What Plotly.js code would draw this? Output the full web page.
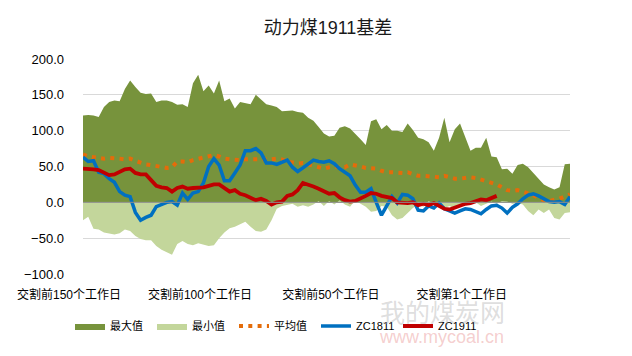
<!DOCTYPE html>
<html><head><meta charset="utf-8">
<script src="https://cdn.plot.ly/plotly-3.0.1.min.js"></script>
<style>html,body{margin:0;padding:0;background:#fff}#chart{width:632px;height:356px}</style>
</head><body><div id="chart"></div>
<script>
// Values, one every two trading days
const maxValues = [121,122,121,119,133,140,142,141,158,170,161,153,151,152,140,142,142,140,136,137,
  133,166,178,155,163,152,170,141,145,131,140,138,137,150,143,137,135,133,127,128,
  128,126,125,118,114,105,96,92,93,104,106,103,96,88,80,113,116,102,108,100,
  100,98,110,101,90,88,84,72,90,118,84,102,110,90,72,76,76,90,64,63,
  46,47,40,52,54,49,41,33,25,21,18,21,53,54];
const minValues = [-25,-20,-37,-38,-42,-44,-45,-43,-38,-40,-47,-51,-53,-53,-61,-66,-69,-73,-58,-54,
  -58,-60,-57,-59,-61,-60,-50,-42,-36,-34,-30,-27,-34,-40,-41,-38,-25,-9,-5,-4,
  -2,-6,-4,-6,-3,2,-5,2,-3,3,-3,-6,3,-2,-6,-13,-12,-5,-6,-18,
  -24,-22,-15,-8,-3,-6,2,-2,-6,-8,-5,-9,-4,-3,-2,0,-5,-2,1,-2,
  2,1,-2,-1,-3,-12,-18,-10,-15,-10,-22,-24,-15,-14];
const avgValues = [67,64,63,62,61,62,62,61,60,61,58,55,53,52,51,49,48,49,57,57,
  56,59,61,62,64,66,64,61,60,59,59,60,60,60,60,59,60,61,60,57,
  55,54,55,53,50,49,47,49,50,49,49,53,52,50,48,48,47,44,42,42,
  41,41,42,40,37,37,36,35,35,37,35,33,33,34,35,34,32,30,28,25,
  21,17,16,17,15,13,10,6,3,2,3,5,8,11];
const zc1811 = [63,57,58,42,40,33,28,15,10,8,-14,-25,-21,-18,-6,-3,0,1,-4,13,
  4,13,15,27,50,61,52,30,30,41,52,72,72,75,69,55,55,53,56,59,
  49,43,48,54,59,57,56,58,54,47,42,37,24,14,14,19,0,-18,-5,8,
  -1,11,10,5,-11,-12,-5,-8,-1,-9,-12,-15,-12,-9,-10,-13,-16,-10,-5,-4,
  -8,-15,-7,-2,5,10,12,9,5,1,0,1,-3,8];
const zc1911 = [47,47,46,45,41,38,39,43,46,47,41,39,39,31,23,21,20,15,20,22,
  19,20,20,21,23,25,25,20,15,17,12,10,6,3,5,2,-3,0,1,9,
  11,17,27,25,22,19,16,12,13,7,3,1,2,5,9,13,12,9,7,6,
  0,-1,-1,0,-4,-2,-4,-1,-5,-9,-10,-7,-4,-2,-1,1,4,3,6,9];
const seriesNames = ['最大值','最小值','平均值','ZC1811','ZC1911'];
const tickLabels = ['交割前150个工作日','交割前100个工作日','交割前50个工作日','交割第1个工作日'];
const tickPositions = [0,25,50,75];

const idx = arr => arr.map((_, i) => i);
const fontFam = 'Liberation Sans, Noto Sans CJK SC, sans-serif';

const traces = [
  {x: idx(maxValues), y: maxValues, name: seriesNames[0], type: 'scatter', mode: 'lines',
   fill: 'tozeroy', fillcolor: '#77933C', line: {width: 0, color: '#77933C'}},
  {x: idx(minValues), y: minValues, name: seriesNames[1], type: 'scatter', mode: 'lines',
   fill: 'tozeroy', fillcolor: '#C3D69B', line: {width: 0, color: '#C3D69B'}},
  {x: idx(avgValues), y: avgValues, name: seriesNames[2], type: 'scatter', mode: 'lines',
   line: {width: 4, color: '#E46C0A', dash: '4px,5.3px'}},
  {x: idx(zc1811), y: zc1811, name: seriesNames[3], type: 'scatter', mode: 'lines',
   line: {width: 3.5, color: '#0070C0'}},
  {x: idx(zc1911), y: zc1911, name: seriesNames[4], type: 'scatter', mode: 'lines',
   line: {width: 3.8, color: '#C00000'}}
];

const layout = {
  width: 632, height: 356,
  margin: {l: 83, r: 62, t: 59, b: 82},
  paper_bgcolor: '#fff', plot_bgcolor: '#fff',
  font: {family: fontFam, size: 12, color: '#000'},
  title: {text: '动力煤1911基差', x: 0.519, xanchor: 'center', y: 0.921, yanchor: 'middle',
          font: {family: fontFam, size: 18, color: '#1a1a1a'}},
  showlegend: true,
  legend: {orientation: 'h', xref: 'container', yref: 'container', x: 70/632, xanchor: 'left',
           y: 1 - 326/356, yanchor: 'middle',
           entrywidth: 37, entrywidthmode: 'pixels', font: {size: 11}, traceorder: 'normal'},
  xaxis: {range: [0, 93], tickvals: tickPositions, ticktext: tickLabels, showgrid: false,
          zeroline: false, showline: false, ticks: '', ticklabelshift: -14, ticklabelstandoff: 12,
          tickfont: {size: 12, color: '#000'}, fixedrange: true},
  yaxis: {range: [-100, 200], dtick: 50, tickformat: '.1f', showgrid: true, gridcolor: '#D9D9D9',
          gridwidth: 1, zeroline: false, showline: false, ticks: '', ticklabelstandoff: 18,
          tickfont: {size: 13, color: '#000'}, fixedrange: true},
  shapes: [{type: 'line', xref: 'paper', x0: 0, x1: 1, yref: 'y', y0: 0, y1: 0,
            line: {color: '#8C8C8C', width: 1}, layer: 'above'}],
  annotations: [
    {text: '我的煤炭网', xref: 'paper', yref: 'paper', x: (442-83)/487, y: -(311-274)/215,
     xanchor: 'center', yanchor: 'middle', showarrow: false,
     font: {size: 25, color: 'rgba(170,170,170,0.4)', family: 'Noto Sans CJK SC'}},
    {text: 'www.mycoal.cn', xref: 'paper', yref: 'paper', x: (441-83)/487, y: -(337-274)/215,
     xanchor: 'center', yanchor: 'middle', showarrow: false,
     font: {size: 18, color: 'rgba(230,130,130,0.4)', family: 'Liberation Sans'}}
  ]
};

Plotly.newPlot('chart', traces, layout, {displayModeBar: false, staticPlot: true});
</script>
</body></html>
